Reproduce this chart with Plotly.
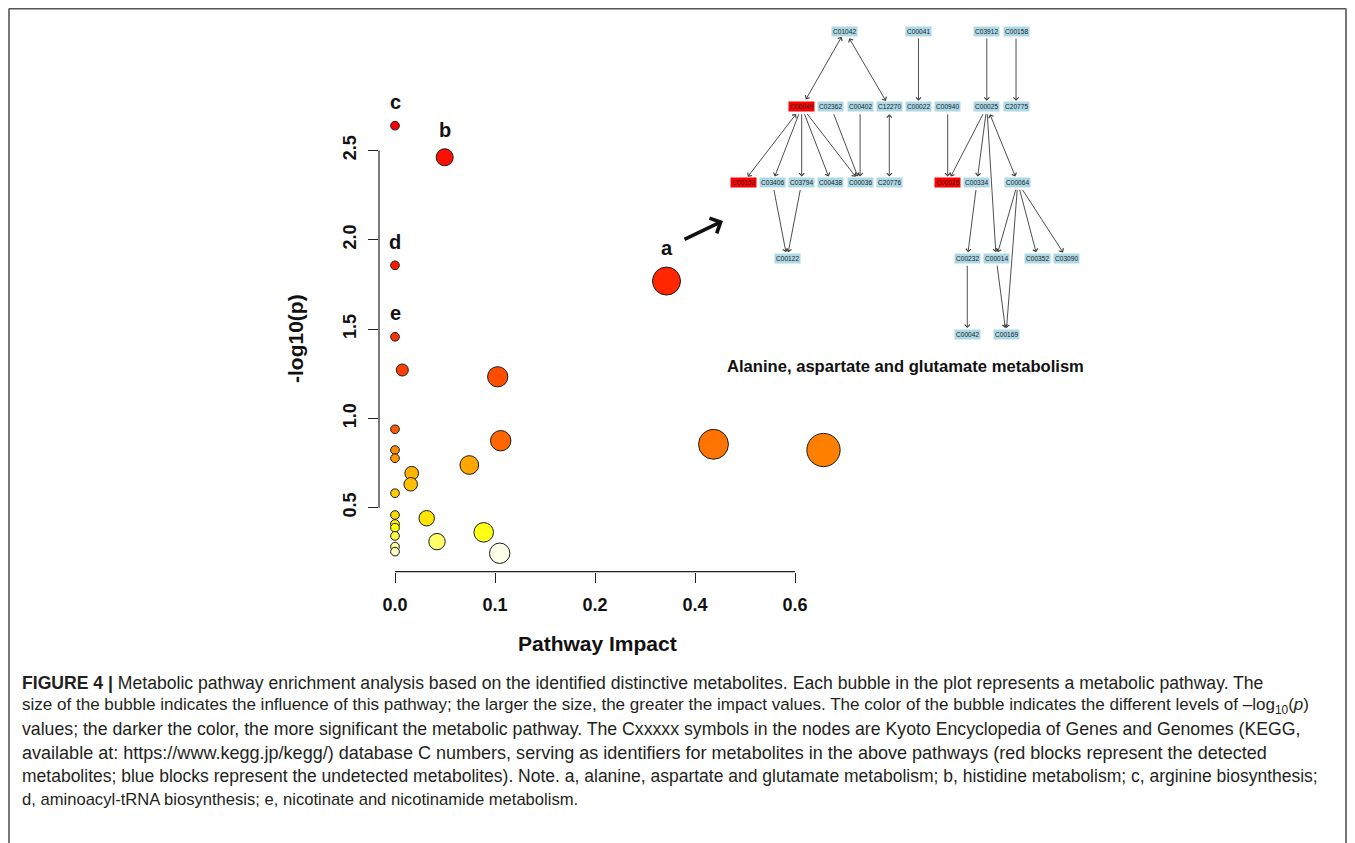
import colorsys
import numpy as np
import plotly.graph_objects as go

# ---------------- data (bubble plot) ----------------
impact = [0.0, 0.0497, 0.0, 0.343, 0.0, 0.0073, 0.1027, 0.0, 0.1057, 0.437,
          0.657, 0.0, 0.0, 0.0743, 0.0167, 0.0157, 0.0, 0.0, 0.0317, 0.0,
          0.0, 0.0887, 0.0, 0.042, 0.0, 0.0, 0.1047]
neglogp = [2.639, 2.462, 1.857, 1.769, 1.457, 1.271, 1.233, 0.939, 0.875, 0.855,
           0.823, 0.823, 0.777, 0.739, 0.693, 0.631, 0.581, 0.459, 0.441, 0.409,
           0.388, 0.362, 0.342, 0.310, 0.282, 0.254, 0.245]
point_labels = ['c', 'b', 'd', 'a', 'e'] + [''] * 22

x_ticks = [0.0, 0.1, 0.2, 0.4, 0.6]
x_tick_text = ['0.0', '0.1', '0.2', '0.4', '0.6']
y_ticks = [0.5, 1.0, 1.5, 2.0, 2.5]
y_tick_text = ['0.5', '1.0', '1.5', '2.0', '2.5']

# ---------------- data (KEGG network) ----------------
node_names = ['C01042', 'C00041', 'C03912', 'C00158',
              'C00049', 'C02362', 'C00402', 'C12270', 'C00022', 'C00940', 'C00025', 'C20775',
              'C00152', 'C03406', 'C03794', 'C00438', 'C00036', 'C20776', 'C00026', 'C00334', 'C00064',
              'C00122', 'C00232', 'C00014', 'C00352', 'C03090',
              'C00042', 'C00169']
node_detected = ['C00049', 'C00152', 'C00026']
edges = [('C00049', 'C01042', True), ('C01042', 'C12270', True), ('C00041', 'C00022', False),
         ('C03912', 'C00025', False), ('C00158', 'C20775', False), ('C00049', 'C00152', True),
         ('C00049', 'C03406', False), ('C00049', 'C03794', False), ('C00049', 'C00438', False),
         ('C00049', 'C00036', False), ('C02362', 'C00036', False), ('C00402', 'C00036', False),
         ('C12270', 'C20776', True), ('C00940', 'C00026', False), ('C00025', 'C00026', False),
         ('C00025', 'C00334', False), ('C00025', 'C00014', False), ('C00025', 'C00064', True),
         ('C03406', 'C00122', False), ('C03794', 'C00122', False), ('C00334', 'C00232', False),
         ('C00064', 'C00014', False), ('C00064', 'C00352', False), ('C00064', 'C03090', False),
         ('C00064', 'C00169', False), ('C00232', 'C00042', False), ('C00014', 'C00169', False)]

# network layout (grid column, grid row)
node_layout = {
    'C01042': (3.48, 0), 'C00041': (6, 0), 'C03912': (8.34, 0), 'C00158': (9.34, 0),
    'C00049': (2, 1), 'C02362': (3, 1), 'C00402': (4, 1), 'C12270': (5, 1), 'C00022': (6, 1),
    'C00940': (7, 1), 'C00025': (8.34, 1), 'C20775': (9.34, 1),
    'C00152': (0, 2), 'C03406': (1, 2), 'C03794': (2, 2), 'C00438': (3, 2), 'C00036': (4, 2),
    'C20776': (5, 2), 'C00026': (7, 2), 'C00334': (8, 2), 'C00064': (9.4, 2),
    'C00122': (1.5, 3), 'C00232': (7.67, 3), 'C00014': (8.66, 3), 'C00352': (10.08, 3),
    'C03090': (11.08, 3), 'C00042': (7.67, 4), 'C00169': (9.0, 4),
}

# page has an 8px body margin: figure occupies screen px 8..1355, 8..843
OFF = 8
W, H = 1355 - OFF, 843 - OFF
FONT = 'Liberation Sans, Arial, Helvetica, sans-serif'


def px_x(p):
    return (p - OFF) / W


def px_y(p):
    return 1 - (p - OFF) / H


def heat_colors(n):
    j = n // 4
    i = n - j
    cols = []
    for k in range(i):
        h = (1 / 6) * k / (i - 1) if i > 1 else 0
        r, g, b = colorsys.hsv_to_rgb(h, 1, 1)
        cols.append('rgb(%d,%d,%d)' % (round(r * 255), round(g * 255), round(b * 255)))
    if j > 0:
        s_vals = np.linspace(1 - 1 / (2 * j), 1 / (2 * j), j)
        for s in s_vals:
            r, g, b = colorsys.hsv_to_rgb(1 / 6, s, 1)
            cols.append('rgb(%d,%d,%d)' % (round(r * 255), round(g * 255), round(b * 255)))
    return cols


def disp(x):
    # broken axis: linear to 0.2, then compressed by half
    x = np.asarray(x, dtype=float)
    return np.where(x <= 0.2, x, 0.2 + (x - 0.2) / 2)


imp = np.array(impact)
nlp = np.array(neglogp)
order = np.argsort(-nlp, kind='stable')
heat = heat_colors(len(nlp))
colors = [None] * len(nlp)
for rank, idx in enumerate(order):
    colors[idx] = heat[rank]
diam = 8.7 + 40 * np.sqrt(imp) - 12 * imp

fig = go.Figure()
fig.add_trace(go.Scatter(
    x=disp(imp), y=nlp, mode='markers',
    marker=dict(size=diam, color=colors, line=dict(color='#1a1a1a', width=1), opacity=1),
    cliponaxis=False, showlegend=False, hoverinfo='skip'))

# axes geometry (screen pixels)
x0_px, xpx_per = 395.0, 1000.0       # display-unit scale
y05_px, ypx_per = 507.7, 178.6
xl_px, xr_px = 379.0, 860.0
yb_px, yt_px = 571.7, 95.0
xr = [(xl_px - x0_px) / xpx_per, (xr_px - x0_px) / xpx_per]
yr = [0.5 + (y05_px - yb_px) / ypx_per, 0.5 + (y05_px - yt_px) / ypx_per]

tickfont = dict(family=FONT, size=18, color='#111', weight='bold')
fig.update_layout(
    xaxis=dict(domain=[px_x(xl_px), px_x(xr_px)], range=xr, showgrid=False, zeroline=False,
               showline=False, ticks='outside', ticklen=10, tickwidth=1.2, tickcolor='#222',
               tickvals=list(disp(x_ticks)), ticktext=x_tick_text, tickfont=tickfont,
               ticklabelstandoff=7),
    yaxis=dict(domain=[px_y(yb_px), px_y(yt_px)], range=yr, showgrid=False, zeroline=False,
               showline=False, ticks='outside', ticklen=10, tickwidth=1.2, tickcolor='#222',
               tickvals=y_ticks, ticktext=y_tick_text, tickangle=-90, tickfont=tickfont,
               ticklabelstandoff=5),
)

# network axes: grid units -> pixels
col0_px, col_step = 743.3, 29.2
row0_px, row_step = 31.0, 75.75
nx_l, nx_r = 720.0, 1100.0
ny_t, ny_b = 15.0, 345.0
fig.update_layout(
    xaxis2=dict(domain=[px_x(nx_l), px_x(nx_r)],
                range=[(nx_l - col0_px) / col_step, (nx_r - col0_px) / col_step],
                visible=False, anchor='y2'),
    yaxis2=dict(domain=[px_y(ny_b), px_y(ny_t)],
                range=[(ny_b - row0_px) / row_step, (ny_t - row0_px) / row_step],
                visible=False, anchor='x2'),
)
fig.add_trace(go.Scatter(x=[None], y=[None], xaxis='x2', yaxis='y2', showlegend=False))

shapes = []
# R-style detached axis lines
shapes.append(dict(type='line', xref='x domain', yref='y', x0=0, x1=0, y0=y_ticks[0], y1=y_ticks[-1],
                   line=dict(color='#222', width=1.2)))
shapes.append(dict(type='line', xref='x', yref='y domain', x0=float(disp(x_ticks[0])),
                   x1=float(disp(x_ticks[-1])), y0=0, y1=0, line=dict(color='#222', width=1.2)))
# figure frame
fl, fr, ft = 9.0, 1346.0, 8.6
for (a, b, c, d) in [(fl, ft, fr, ft), (fl, ft, fl, 843 + 5), (fr, ft, fr, 843 + 5)]:
    shapes.append(dict(type='line', xref='paper', yref='paper', x0=px_x(a), y0=px_y(b),
                       x1=px_x(c), y1=px_y(d), line=dict(color='#555', width=1.6)))

annotations = []
# pathway letters
for xi, yi, lab, d in zip(imp, nlp, point_labels, diam):
    if lab:
        annotations.append(dict(x=float(disp(xi)), y=float(yi), xref='x', yref='y', text=lab,
                                showarrow=False, yshift=d / 2 + 19, xanchor='center',
                                yanchor='middle',
                                font=dict(family=FONT, size=20, color='#111', weight='bold')))
# axis titles
annotations.append(dict(x=px_x(597), y=px_y(643), xref='paper', yref='paper', text='Pathway Impact',
                        xanchor='center', yanchor='middle', showarrow=False,
                        font=dict(family=FONT, size=21, color='#111', weight='bold')))
annotations.append(dict(x=px_x(295), y=px_y(339), xref='paper', yref='paper', text='-log10(p)',
                        textangle=-90, xanchor='center', yanchor='middle', showarrow=False,
                        font=dict(family=FONT, size=21, color='#111', weight='bold')))
# big pointer arrow
annotations.append(dict(x=px_x(723), y=px_y(221), xref='paper', yref='paper', ax=-40, ay=19,
                        axref='pixel', ayref='pixel', text='', showarrow=True, arrowhead=4,
                        arrowsize=0.9, arrowwidth=3.6, arrowcolor='#111'))

# network edges
hw, hh = 12.5, 5.0


def clip_dist(ux, uy):
    vals = []
    if abs(ux) > 1e-9:
        vals.append(hw / abs(ux))
    if abs(uy) > 1e-9:
        vals.append(hh / abs(uy))
    return min(vals) + 1


for s, t, bi in edges:
    sc, sr = node_layout[s]
    tc, tr = node_layout[t]
    dx = (tc - sc) * col_step
    dy = (tr - sr) * row_step
    L = np.hypot(dx, dy)
    ux, uy = dx / L, dy / L
    st = clip_dist(ux, uy)
    a = dict(x=tc, y=tr, ax=sc, ay=sr, xref='x2', yref='y2', axref='x2', ayref='y2', text='',
             showarrow=True, arrowhead=4, arrowsize=1.1, arrowwidth=0.9, arrowcolor='#3a3a3a',
             standoff=st, startstandoff=st)
    if bi:
        a.update(arrowside='end+start', startarrowhead=4, startarrowsize=1.1)
    annotations.append(a)

# network nodes
for n in node_names:
    c, r = node_layout[n]
    annotations.append(dict(x=c, y=r, xref='x2', yref='y2', text=n, showarrow=False,
                            xanchor='center', yanchor='middle',
                            bgcolor='#ff0000' if n in node_detected else '#add8e6',
                            borderpad=1, font=dict(family=FONT, size=6.6, color='#222')))

annotations.append(dict(x=px_x(905), y=px_y(366), xref='paper', yref='paper',
                        text='Alanine, aspartate and glutamate metabolism', showarrow=False,
                        xanchor='center', yanchor='middle',
                        font=dict(family=FONT, size=16.6, color='#111', weight='bold')))

# caption (justified in the original: per-line sizes reproduce the line lengths)
caption_lines = [
    '<b>FIGURE 4 |</b> Metabolic pathway enrichment analysis based on the identified distinctive metabolites. Each bubble in the plot represents a metabolic pathway. The',
    'size of the bubble indicates the influence of this pathway; the larger the size, the greater the impact values. The color of the bubble indicates the different levels of \u2013log<sub>10</sub>(<i>p</i>)',
    'values; the darker the color, the more significant the metabolic pathway. The Cxxxxx symbols in the nodes are Kyoto Encyclopedia of Genes and Genomes (KEGG,',
    'available at: https://www.kegg.jp/kegg/) database C numbers, serving as identifiers for metabolites in the above pathways (red blocks represent the detected',
    'metabolites; blue blocks represent the undetected metabolites). Note. a, alanine, aspartate and glutamate metabolism; b, histidine metabolism; c, arginine biosynthesis;',
    'd, aminoacyl-tRNA biosynthesis; e, nicotinate and nicotinamide metabolism.',
]
caption_sizes = [17.6, 17.05, 17.7, 18.05, 17.5, 16.6]
for k, (line, fs) in enumerate(zip(caption_lines, caption_sizes)):
    annotations.append(dict(x=px_x(20), y=px_y(683 + 23.2 * k), xref='paper', yref='paper',
                            xanchor='left', yanchor='middle', text=line, showarrow=False,
                            font=dict(family=FONT, size=fs, color='#231f20')))

fig.update_layout(width=W, height=H, margin=dict(l=0, r=0, t=0, b=0),
                  paper_bgcolor='white', plot_bgcolor='white',
                  shapes=shapes, annotations=annotations, showlegend=False)
fig.write_html('out.html')
